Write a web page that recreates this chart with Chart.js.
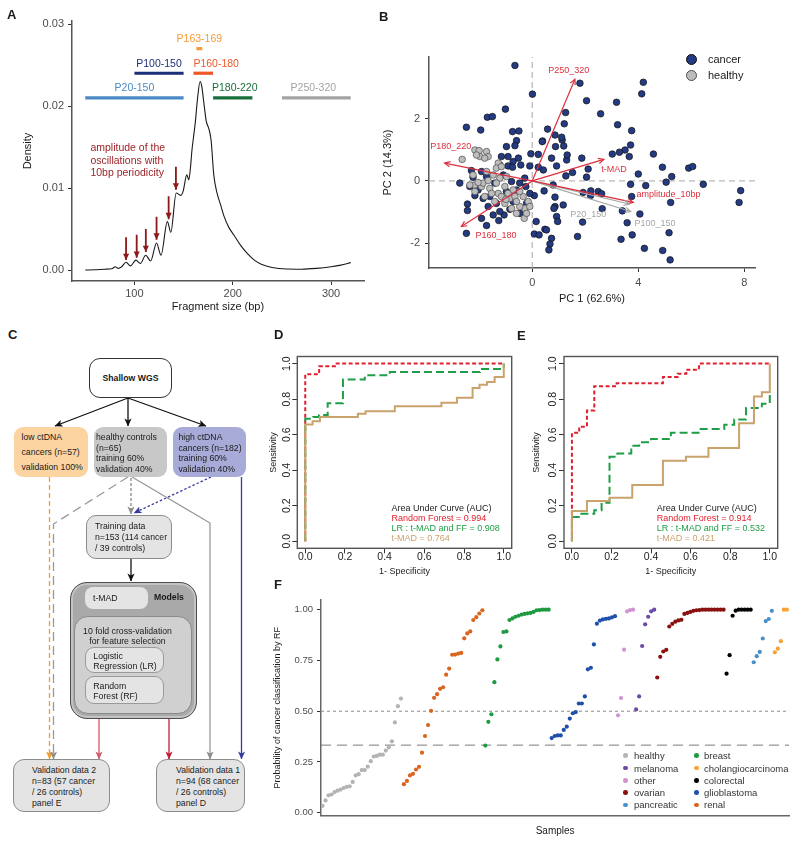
<!DOCTYPE html>
<html>
<head>
<meta charset="utf-8">
<title>cfDNA fragmentation figure</title>
<script src="https://cdn.jsdelivr.net/npm/chart.js@4.4.1/dist/chart.umd.min.js"></script>
<style>
  body { margin: 0; background: #fff; }
  #page { position: relative; width: 800px; height: 849px; overflow: hidden;
          font-family: 'Liberation Sans', Arial, sans-serif; color: #1a1a1a; }
  canvas { position: absolute; }
  .tag { position: absolute; font-size: 13px; font-weight: bold; line-height: 13px; }
  .box { position: absolute; box-sizing: border-box; font-size: 8.7px; white-space: nowrap; color: #1a1a1a; }
  .legtxt { position: absolute; white-space: nowrap; }
  .dot { position: absolute; box-sizing: border-box; border-radius: 50%; }
  #flow { position: absolute; left: 0; top: 0; }
</style>
</head>
<body>
<div id="page">
  <canvas id="chartA" width="370" height="320" style="left:0;top:0"></canvas>
  <canvas id="chartB" width="420" height="310" style="left:380px;top:0"></canvas>
  <canvas id="chartD" width="252" height="250" style="left:268px;top:340px"></canvas>
  <canvas id="chartE" width="260" height="250" style="left:530px;top:340px"></canvas>
  <canvas id="chartF" width="530" height="259" style="left:265px;top:590px"></canvas>

  <div class="tag" style="left:7px;top:8px">A</div>
  <div class="tag" style="left:379px;top:10px">B</div>
  <div class="tag" style="left:8px;top:328px">C</div>
  <div class="tag" style="left:274px;top:328px">D</div>
  <div class="tag" style="left:517px;top:329px">E</div>
  <div class="tag" style="left:274px;top:578px">F</div>

  <!-- B legend -->
  <div class="dot" style="left:686px;top:54px;width:11px;height:11px;background:#243b84;border:1px solid #111"></div>
  <div class="dot" style="left:686px;top:69.5px;width:11px;height:11px;background:#bdbdbd;border:1px solid #4d4d4d"></div>
  <div class="legtxt" style="left:708px;top:53px;font-size:11px;line-height:12px">cancer</div>
  <div class="legtxt" style="left:708px;top:69px;font-size:11px;line-height:12px">healthy</div>

  <!-- C: study design flowchart -->
  <svg id="flow" width="270" height="849">
    <defs>
      <marker id="hk" viewBox="0 0 10 10" refX="9.5" refY="5" markerWidth="8" markerHeight="8" markerUnits="userSpaceOnUse" orient="auto"><path d="M0,0.5 L10,5 L0,9.5 L2.5,5 z" fill="#111"/></marker>
      <marker id="ho" viewBox="0 0 10 10" refX="9.5" refY="5" markerWidth="8" markerHeight="8" markerUnits="userSpaceOnUse" orient="auto"><path d="M0,0.5 L10,5 L0,9.5 L2.5,5 z" fill="#f39c2b"/></marker>
      <marker id="hg" viewBox="0 0 10 10" refX="9.5" refY="5" markerWidth="8" markerHeight="8" markerUnits="userSpaceOnUse" orient="auto"><path d="M0,0.5 L10,5 L0,9.5 L2.5,5 z" fill="#8c8c8c"/></marker>
      <marker id="hn" viewBox="0 0 10 10" refX="9.5" refY="5" markerWidth="8" markerHeight="8" markerUnits="userSpaceOnUse" orient="auto"><path d="M0,0.5 L10,5 L0,9.5 L2.5,5 z" fill="#363b9e"/></marker>
      <marker id="hr" viewBox="0 0 10 10" refX="9.5" refY="5" markerWidth="8" markerHeight="8" markerUnits="userSpaceOnUse" orient="auto"><path d="M0,0.5 L10,5 L0,9.5 L2.5,5 z" fill="#c41e3a"/></marker>
      <marker id="hp" viewBox="0 0 10 10" refX="9.5" refY="5" markerWidth="8" markerHeight="8" markerUnits="userSpaceOnUse" orient="auto"><path d="M0,0.5 L10,5 L0,9.5 L2.5,5 z" fill="#d35a68"/></marker>
    </defs>
    <g fill="none" stroke-width="1.3">
      <line x1="128" y1="398" x2="55" y2="426" stroke="#111" marker-end="url(#hk)"/>
      <line x1="128" y1="398" x2="128" y2="426" stroke="#111" marker-end="url(#hk)"/>
      <line x1="128" y1="398" x2="206" y2="426" stroke="#111" marker-end="url(#hk)"/>
      <line x1="49.5" y1="477" x2="49.5" y2="759" stroke="#f39c2b" stroke-dasharray="5,3" marker-end="url(#ho)"/>
      <polyline points="128,477 53.5,524 53.5,759" stroke="#999" stroke-dasharray="9,5" marker-end="url(#hg)"/>
      <line x1="131" y1="478" x2="131" y2="514" stroke="#888" stroke-dasharray="3,2" marker-end="url(#hg)"/>
      <line x1="211" y1="477" x2="134" y2="513" stroke="#363b9e" stroke-dasharray="2.5,2" marker-end="url(#hn)"/>
      <polyline points="132,477 210,523 210,759" stroke="#999" marker-end="url(#hg)"/>
      <line x1="241.5" y1="477" x2="241.5" y2="759" stroke="#363b9e" marker-end="url(#hn)"/>
      <line x1="131" y1="559" x2="131" y2="581" stroke="#111" marker-end="url(#hk)"/>
      <line x1="99" y1="718" x2="99" y2="759" stroke="#d35a68" marker-end="url(#hp)"/>
      <line x1="169" y1="718" x2="169" y2="759" stroke="#c41e3a" marker-end="url(#hr)"/>
    </g>
  </svg>
  <div class="box" style="left:89px;top:358px;width:83px;height:40px;border:1px solid #333;border-radius:11px;background:#fff;font-weight:bold;text-align:center;line-height:38px">Shallow WGS</div>
  <div class="box" style="left:14px;top:427px;width:74px;height:50px;border-radius:9px;background:#fcd4a2;padding:3.3px 0 0 7.5px;line-height:14.7px">low ctDNA<br>cancers (n=57)<br>validation 100%</div>
  <div class="box" style="left:94px;top:427px;width:73px;height:50px;border-radius:9px;background:#c8c8c8;padding:5px 0 0 2px;line-height:10.5px">healthy controls<br>(n=65)<br>training 60%<br>validation 40%</div>
  <div class="box" style="left:173px;top:427px;width:73px;height:50px;border-radius:9px;background:#a8abd8;padding:5px 0 0 5.5px;line-height:10.5px">high ctDNA<br>cancers (n=182)<br>training 60%<br>validation 40%</div>
  <div class="box" style="left:86px;top:515px;width:86px;height:44px;border:1px solid #8c8c8c;border-radius:10px;background:#e4e4e4;padding:4.5px 0 0 8px;line-height:11.2px">Training data<br>n=153 (114 cancer<br>/ 39 controls)</div>
  <div class="box" style="left:70px;top:582px;width:127px;height:137px;border:1px solid #4d4d4d;border-radius:17px;background:#a9a9a9;box-shadow:inset 0 0 0 2px #c4c4c4"></div>
  <div class="box" style="left:85px;top:587px;width:63px;height:22px;border-radius:8px;background:#e4e4e4;padding-left:8px;line-height:22px">t-MAD</div>
  <div class="box" style="left:154px;top:592px;font-weight:bold;line-height:11px">Models</div>
  <div class="box" style="left:74px;top:616px;width:118px;height:98px;border:1px solid #8a8a8a;border-radius:14px;background:#d0d0d0;padding:9px 11px 0 0;line-height:10px;text-align:center">10 fold cross-validation<br>for feature selection</div>
  <div class="box" style="left:85px;top:647px;width:79px;height:26px;border:1px solid #9a9a9a;border-radius:9px;background:#e4e4e4;padding:2.5px 0 0 7.3px;line-height:10px">Logistic<br>Regression (LR)</div>
  <div class="box" style="left:85px;top:676px;width:79px;height:28px;border:1px solid #9a9a9a;border-radius:9px;background:#e4e4e4;padding:4px 0 0 7.3px;line-height:10px">Random<br>Forest (RF)</div>
  <div class="box" style="left:13px;top:759px;width:97px;height:53px;border:1px solid #8c8c8c;border-radius:11px;background:#e4e4e4;padding:5.3px 0 0 18px;line-height:10.8px">Validation data 2<br>n=83 (57 cancer<br>/ 26 controls)<br>panel E</div>
  <div class="box" style="left:156px;top:759px;width:89px;height:53px;border:1px solid #8c8c8c;border-radius:11px;background:#e4e4e4;padding:5.3px 0 0 19px;line-height:10.8px">Validation data 1<br>n=94 (68 cancer<br>/ 26 controls)<br>panel D</div>
</div>

<script>
// ---------- A: fragment size density ----------
const fragSize = [50, 60, 70, 77, 80.5, 83.5, 87, 91.5, 96, 101.5, 106, 111.5, 116.5, 122.5, 127, 133.5, 137,
  142.5, 147, 149.5, 153.3, 155.3, 157, 158.5, 160.2, 162, 164, 166.8, 168.5, 170.3, 173, 176, 178, 180.7,
  184, 187.5, 191, 196, 201, 208, 215, 222, 229, 240, 255, 270, 285, 300, 310, 320];
const fragDensity = [0, 0.00003, 0.0001, 0.00015, 0.0004, 0.0002, 0.0004, 0.00095, 0.0005, 0.0012, 0.0008,
  0.0018, 0.0011, 0.0033, 0.0018, 0.0059, 0.0046, 0.0094, 0.0091, 0.0096, 0.0116, 0.011, 0.0125, 0.0146,
  0.0163, 0.0181, 0.0207, 0.023, 0.0224, 0.0207, 0.0182, 0.0171, 0.0158, 0.0116, 0.0094, 0.008, 0.0066,
  0.0052, 0.0043, 0.003, 0.002, 0.0012, 0.0007, 0.0003, 0.00012, 0.0001, 0.0002, 0.0004, 0.0006, 0.0009];
const rangeNames = ['P20-150', 'P100-150', 'P160-180', 'P163-169', 'P180-220', 'P250-320'];
const rangeStart = [50, 100, 160, 163, 180, 250];
const rangeEnd = [150, 150, 180, 169, 220, 320];
const rangeLevel = [0.021, 0.024, 0.024, 0.027, 0.021, 0.021];
const peakSize = [91.5, 102.3, 111.6, 122.5, 134.8, 142.2];
const densityTicks = [0, 0.01, 0.02, 0.03];
const sizeTicks = [100, 200, 300];

// ---------- B: PCA ----------
const cancerPC1 = [-0.65, 0.01, 1.80, 2.05, 1.26, 1.21, 0.58, 0.86, 1.13, 1.19, 0.39, -1.01, -1.69, -1.50, -2.48,
  -1.94, -0.74, -0.50, -0.59, -0.97, -0.65, -0.52, -0.72, -0.91, -0.43, -0.09, -0.05, 0.23, 0.42, 0.23, 0.73,
  0.92, 1.30, 1.52, 1.27, 1.87, 2.11, 2.05, 1.92, 0.79, 0.45, 0.08, 0.86, 1.17, 0.92, 0.96, 0.86, 0.48, 0.15,
  0.08, 0.26, 0.73, 0.67, 0.63, 1.90, 1.71, -2.73, -2.44, -2.44, -2.48, -1.72, -1.91, -1.26, -1.06, -0.84, -0.47,
  -2.29, -2.23, -2.35, -2.04, -2.16, -1.85, -1.60, -1.35, -1.16, -1.22, -0.91, -0.74, -1.09, -0.78, -0.47, -0.28,
  -0.24, -1.41, -1.72, -1.91, -0.97, -0.59, -1.22, -1.47, -1.66, -0.21, -0.09, -0.72,
  1.11, 0.88, 0.38, 1.32, 0.82, 0.54, 2.20, 2.21,
  4.19, 4.13, 3.18, 2.58, 3.22, 3.75, 3.71, 3.50, 3.29, 3.02, 3.66, 4.57, 4.91, 5.90, 6.05, 4.00, 5.26, 5.05,
  3.71, 4.28, 6.45, 7.86, 7.80, 5.22, 3.75, 2.49, 2.62, 2.64, 3.40, 4.06, 3.58, 3.77, 3.35, 5.16, 4.23, 4.92, 5.20];
const cancerPC2 = [3.70, 2.78, 3.13, 2.57, 2.19, 1.83, 1.66, 1.47, 1.31, 1.12, 1.28, 2.30, 2.04, 2.06, 1.72,
  1.63, 1.58, 1.60, 1.29, 1.10, 1.13, 0.73, 0.62, 0.48, 0.51, 0.48, 0.87, 0.85, 0.35, 0.44, 0.73,
  0.48, 0.67, 0.27, 0.16, 0.73, 0.38, 0.12, -0.37, -0.13, -0.32, -0.47, -0.52, -0.77, -1.14, -1.30, -0.82, -1.55, -1.30,
  -1.70, -1.73, -1.84, -2.02, -2.21, -1.32, -1.78, -0.07, -0.74, -0.95, -1.68, -1.43, -1.20, -1.27, -1.09, -0.91, -1.04,
  0.33, 0.12, -0.18, -0.29, -0.47, -0.56, -0.50, -0.72, 0.78, 0.51, 0.78, 0.44, 0.19, -0.02, -0.07, 0.09,
  -0.18, -0.07, 0.14, 0.30, -0.34, -0.29, -0.98, -1.09, -0.82, -0.72, -0.40, -0.66,
  1.40, 1.10, 1.26, 0.83, -0.88, -1.57, -0.47, -0.32,
  3.16, 2.79, 2.52, 2.15, 1.80, 1.61, 1.15, 0.99, 0.92, 0.86, 0.78, 0.86, 0.44, 0.41, 0.46, 0.22, 0.14, -0.04,
  -0.11, -0.15, -0.11, -0.31, -0.69, -0.69, -0.50, -0.34, -0.41, -0.89, -0.96, -1.06, -1.34, -1.73, -1.87, -1.66, -2.16, -2.23, -2.53];
const healthyPC1 = [-2.64, -2.16, -2.00, -1.72, -1.66, -1.97, -1.79, -2.10, -1.28, -1.35, -1.72, -2.23, -2.16,
  -1.91, -1.60, -1.28, -1.22, -0.97, -1.16, -0.84, -0.65, -0.34, -0.15, -0.28, -0.47, -0.30, -0.59, -0.78, -1.03,
  -1.41, -1.53, -1.85, -2.35, -2.04, -1.66, -1.03, -0.72, -0.91, -0.47, -0.09, -1.16, -1.47, -1.79, -2.16, -0.59,
  -0.21, -1.35, -0.99];
const healthyPC2 = [0.69, 0.99, 0.97, 0.94, 0.78, 0.78, 0.73, 0.83, 0.57, 0.41, 0.30, 0.19, -0.13,
  -0.18, -0.24, -0.40, 0.09, 0.14, -0.50, -0.56, -0.50, -0.50, -0.66, -0.88, -0.82, -1.20, -1.04, -0.88, -0.72,
  -0.66, -0.40, -0.07, -0.13, -0.05, 0.01, -0.18, -0.29, -0.40, -0.34, -0.82, 0.46, 0.19, -0.50, -0.34, -0.66,
  -1.04, -0.07, -0.59];
const loadNames = ['P250_320', 'P180_220', 'P160_180', 't-MAD', 'amplitude_10bp', 'P20_150', 'P100_150'];
const loadPC1 = [1.61, -3.30, -2.67, 2.70, 3.81, 3.66, 3.71];
const loadPC2 = [3.26, 0.57, -1.46, 0.69, -0.69, -0.74, -0.98];
const pcTicksX = [0, 4, 8];
const pcTicksY = [-2, 0, 2];

// ---------- D / E: ROC curves ----------
const dRfX = [0, 0, 0.07, 0.07, 0.15, 0.15, 1];
const dRfY = [0, 0.94, 0.94, 0.985, 0.985, 1, 1];
const dLrX = [0, 0, 0.04, 0.04, 0.07, 0.07, 0.113, 0.113, 0.19, 0.19, 0.30, 0.30, 0.426, 0.426, 0.88, 0.88, 1, 1];
const dLrY = [0, 0.69, 0.69, 0.70, 0.70, 0.71, 0.71, 0.777, 0.777, 0.91, 0.91, 0.934, 0.934, 0.953, 0.953, 0.97, 0.97, 1];
const dMadX = [0, 0, 0.037, 0.037, 0.074, 0.074, 0.265, 0.265, 0.304, 0.304, 0.451, 0.451, 0.686, 0.686, 0.764,
  0.764, 0.843, 0.843, 0.878, 0.878, 0.916, 0.916, 0.954, 0.954, 1, 1];
const dMadY = [0, 0.657, 0.657, 0.675, 0.675, 0.70, 0.70, 0.717, 0.717, 0.732, 0.732, 0.76, 0.76, 0.779, 0.779,
  0.808, 0.808, 0.862, 0.862, 0.881, 0.881, 0.896, 0.896, 0.925, 0.925, 1];
const eRfX = [0, 0, 0.037, 0.037, 0.076, 0.076, 0.113, 0.113, 0.226, 0.226, 0.46, 0.46, 0.535, 0.535, 0.578, 0.578, 0.642, 0.642, 1];
const eRfY = [0, 0.61, 0.61, 0.645, 0.645, 0.736, 0.736, 0.872, 0.872, 0.89, 0.89, 0.925, 0.925, 0.943, 0.943, 0.966, 0.966, 1, 1];
const eLrX = [0, 0, 0.04, 0.04, 0.113, 0.113, 0.15, 0.15, 0.19, 0.19, 0.23, 0.23, 0.30, 0.30, 0.34, 0.34, 0.40,
  0.40, 0.50, 0.50, 0.64, 0.64, 0.77, 0.77, 0.82, 0.82, 0.88, 0.88, 0.96, 0.96, 1, 1];
const eLrY = [0, 0.136, 0.136, 0.155, 0.155, 0.174, 0.174, 0.217, 0.217, 0.475, 0.475, 0.494, 0.494, 0.538, 0.538,
  0.557, 0.557, 0.575, 0.575, 0.61, 0.61, 0.632, 0.632, 0.655, 0.655, 0.685, 0.685, 0.75, 0.75, 0.774, 0.774, 0.834];
const eMadX = [0, 0, 0.076, 0.076, 0.19, 0.19, 0.305, 0.305, 0.46, 0.46, 0.576, 0.576, 0.69, 0.69, 0.845, 0.845, 0.92, 0.92, 0.96, 0.96, 1, 1];
const eMadY = [0, 0.17, 0.17, 0.226, 0.226, 0.245, 0.245, 0.317, 0.317, 0.453, 0.453, 0.475, 0.475, 0.525, 0.525,
  0.664, 0.664, 0.815, 0.815, 0.838, 0.838, 1];
const aucD = [0.994, 0.908, 0.764];
const aucE = [0.914, 0.532, 0.421];
const rocTicks = [0, 0.2, 0.4, 0.6, 0.8, 1];

// ---------- F: RF probability per sample ----------
const groupNames = ['healthy', 'renal', 'breast', 'glioblastoma', 'other', 'melanoma', 'ovarian', 'colorectal', 'pancreatic', 'cholangiocarcinoma'];
const healthyProb = [0.034, 0.061, 0.086, 0.090, 0.102, 0.109, 0.114, 0.122, 0.128, 0.130, 0.152, 0.184, 0.190, 0.210,
  0.210, 0.227, 0.254, 0.277, 0.280, 0.286, 0.286, 0.306, 0.322, 0.352, 0.445, 0.525, 0.562];
const renalProb = [0.141, 0.157, 0.184, 0.192, 0.213, 0.226, 0.296, 0.378, 0.432, 0.502, 0.566, 0.584, 0.610, 0.618,
  0.680, 0.710, 0.778, 0.779, 0.784, 0.787, 0.859, 0.883, 0.893, 0.949, 0.963, 0.981, 0.997];
const breastProb = [0.331, 0.448, 0.485, 0.643, 0.755, 0.819, 0.890, 0.893, 0.949, 0.957, 0.965, 0.970, 0.976, 0.979,
  0.982, 0.984, 0.989, 0.997, 0.998, 1, 1, 1];
const glioProb = [0.368, 0.378, 0.381, 0.381, 0.408, 0.424, 0.464, 0.490, 0.496, 0.538, 0.538, 0.573, 0.706, 0.714,
  0.829, 0.931, 0.946, 0.952, 0.955, 0.957, 0.962, 0.968];
const otherProb = [0.480, 0.565, 0.803, 0.992, 0.998, 1];
const melanomaProb = [0.509, 0.573, 0.821, 0.928, 0.965, 0.992, 1];
const ovarianProb = [0.666, 0.768, 0.794, 0.802, 0.917, 0.930, 0.941, 0.947, 0.950, 0.979, 0.984, 0.989, 0.994,
  0.997, 0.998, 1, 1, 1, 1, 1, 1, 1, 1];
const colorectalProb = [0.685, 0.776, 0.970, 0.995, 1, 1, 1, 1, 1];
const pancreaticProb = [0.741, 0.771, 0.792, 0.858, 0.944, 0.954, 0.994];
const cholangioProb = [0.790, 0.808, 0.845, 1, 1];
const cutoffs = [0.5, 0.333];
const probTicks = [0, 0.25, 0.5, 0.75, 1];

// ---------- shared setup ----------
const FONT = "'Liberation Sans', Arial, sans-serif";
Chart.defaults.font.family = FONT;
Chart.defaults.animation = false;
Chart.defaults.responsive = false;
Chart.defaults.plugins.legend.display = false;
Chart.defaults.plugins.tooltip.enabled = false;

const fixWidth = w => s => { s.width = w; };
const fixHeight = h => s => { s.height = h; };
const useTicks = vals => s => { s.ticks = vals.map(v => ({ value: v })); };
const pairs = (xs, ys) => xs.map((x, i) => ({ x, y: ys[i] }));

// arrow heads at the last point of datasets that ask for one
const arrowHeads = {
  id: 'arrowHeads',
  afterDatasetsDraw(chart) {
    const ctx = chart.ctx;
    chart.data.datasets.forEach((ds, i) => {
      if (!ds.headSize) return;
      const pts = chart.getDatasetMeta(i).data;
      const a = pts[pts.length - 2], b = pts[pts.length - 1];
      const ang = Math.atan2(b.y - a.y, b.x - a.x);
      const s = ds.headSize, w = 0.45;
      ctx.save();
      ctx.strokeStyle = ctx.fillStyle = ds.borderColor;
      ctx.lineWidth = ds.borderWidth;
      ctx.beginPath();
      ctx.moveTo(b.x - s * Math.cos(ang - w), b.y - s * Math.sin(ang - w));
      ctx.lineTo(b.x, b.y);
      ctx.lineTo(b.x - s * Math.cos(ang + w), b.y - s * Math.sin(ang + w));
      if (ds.headFilled) { ctx.closePath(); ctx.fill(); } else { ctx.stroke(); }
      ctx.restore();
    });
  }
};

// text annotations placed in data units (chart.data.notes)
const notes = {
  id: 'notes',
  afterDatasetsDraw(chart) {
    const { ctx, scales } = chart;
    (chart.data.notes || []).forEach(n => {
      const lines = [].concat(n.text), colors = [].concat(n.color);
      const x0 = scales.x.getPixelForValue(n.x) + (n.dx || 0);
      const y0 = scales.y.getPixelForValue(n.y) + (n.dy || 0);
      ctx.save();
      ctx.font = n.size + 'px ' + FONT;
      ctx.textAlign = n.align || 'center';
      ctx.textBaseline = 'middle';
      lines.forEach((t, k) => {
        ctx.fillStyle = colors[k] || colors[0];
        ctx.fillText(t, x0, y0 + k * (n.lh || 0));
      });
      ctx.restore();
    });
  }
};

// R style box and vertical tick labels for the ROC panels
const rocFrame = {
  id: 'rocFrame',
  afterDraw(chart) {
    const { ctx, chartArea: a, scales: { y } } = chart;
    ctx.save();
    ctx.strokeStyle = '#555';
    ctx.lineWidth = 1.4;
    ctx.strokeRect(a.left, a.top, a.right - a.left, a.bottom - a.top);
    ctx.fillStyle = '#222';
    ctx.font = '10.5px ' + FONT;
    ctx.textAlign = 'center';
    ctx.textBaseline = 'middle';
    y.ticks.forEach(t => {
      ctx.save();
      ctx.translate(a.left - 10.5, y.getPixelForValue(t.value));
      ctx.rotate(-Math.PI / 2);
      ctx.fillText(t.value.toFixed(1), 0, 0);
      ctx.restore();
    });
    ctx.restore();
  }
};

const ggAxis = { color: '#555', width: 1.5 };
const ggGrid = { drawOnChartArea: false, tickLength: 4, tickColor: '#333' };

// ---------- chart A ----------
const rangeColors = ['#4a89c4', '#1c2e78', '#f0582a', '#f79a36', '#17703a', '#a3a3a3'];
const rangeLabelX = [100, 125, 160, 166, 202, 282];
const rangeLabelAlign = ['center', 'center', 'left', 'center', 'center', 'center'];
const arrowFrom = [0.0040, 0.0043, 0.0050, 0.0065, 0.0090, 0.0126];
const arrowTo = [0.00122, 0.0015, 0.0022, 0.0037, 0.0062, 0.0098];

new Chart(document.getElementById('chartA'), {
  type: 'line',
  data: {
    datasets: [
      { data: pairs(fragSize, fragDensity), borderColor: '#1a1a1a', borderWidth: 1.1, pointRadius: 0,
        cubicInterpolationMode: 'monotone' },
      ...rangeNames.map((n, i) => ({
        data: [{ x: rangeStart[i], y: rangeLevel[i] }, { x: rangeEnd[i], y: rangeLevel[i] }],
        borderColor: rangeColors[i], borderWidth: 3.2, pointRadius: 0
      })),
      ...peakSize.map((p, i) => ({
        data: [{ x: p, y: arrowFrom[i] }, { x: p, y: arrowTo[i] }],
        borderColor: '#8b1a1a', borderWidth: 1.8, pointRadius: 0, headSize: 7, headFilled: true
      }))
    ],
    notes: [
      ...rangeNames.map((n, i) => ({ text: n, x: rangeLabelX[i], y: rangeLevel[i], dy: -9.5, size: 10.5,
        color: rangeColors[i], align: rangeLabelAlign[i] })),
      { text: ['amplitude of the', 'oscillations with', '10bp periodicity'], x: 55.2, y: 0.01484, lh: 12.5,
        size: 10.5, color: '#9b2226', align: 'left' }
    ]
  },
  options: {
    layout: { padding: { left: 0, top: 21, right: 6, bottom: 0 } },
    scales: {
      x: { type: 'linear', min: 36.5, max: 333.5, afterFit: fixHeight(39), afterBuildTicks: useTicks(sizeTicks),
        grid: ggGrid, border: ggAxis,
        ticks: { color: '#4d4d4d', padding: 2.5, font: { size: 11 } },
        title: { display: true, text: 'Fragment size (bp)', color: '#1a1a1a', font: { size: 11 }, padding: { top: 0, bottom: 6 } } },
      y: { min: -0.00134, max: 0.03037, afterFit: fixWidth(72), afterBuildTicks: useTicks(densityTicks),
        grid: ggGrid, border: ggAxis,
        ticks: { color: '#4d4d4d', padding: 4, font: { size: 11 }, callback: v => v.toFixed(2) },
        title: { display: true, text: 'Density', color: '#1a1a1a', font: { size: 11 }, padding: { top: 21, bottom: 0 } } }
    }
  },
  plugins: [arrowHeads, notes]
});

// ---------- chart B ----------
const loadColors = ['#dc2f3c', '#dc2f3c', '#dc2f3c', '#dc2f3c', '#dc2f3c', '#a6a6a6', '#a6a6a6'];
const loadLabelPC1 = [1.38, -3.07, -1.36, 3.08, 5.14, 2.11, 4.63];
const loadLabelPC2 = [3.53, 1.10, -1.75, 0.37, -0.43, -1.09, -1.38];
const pcX = [-3.89, 8.40], pcY = [-2.79, 3.97];

new Chart(document.getElementById('chartB'), {
  type: 'scatter',
  data: {
    datasets: [
      ...loadNames.map((n, i) => ({
        data: [{ x: 0, y: 0 }, { x: loadPC1[i], y: loadPC2[i] }],
        showLine: true, pointRadius: 0, borderColor: loadColors[i], borderWidth: 1.2, headSize: 6
      })),
      { data: pairs(healthyPC1, healthyPC2), backgroundColor: '#bdbdbd', borderColor: '#4d4d4d', borderWidth: 0.7, pointRadius: 3.3 },
      { data: pairs(cancerPC1, cancerPC2), backgroundColor: '#243b84', borderColor: '#111', borderWidth: 0.7, pointRadius: 3.3 },
      { data: [{ x: pcX[0], y: 0 }, { x: pcX[1], y: 0 }], showLine: true, pointRadius: 0, borderColor: '#a6a6a6', borderWidth: 1, borderDash: [6, 4] },
      { data: [{ x: 0, y: pcY[0] }, { x: 0, y: pcY[1] }], showLine: true, pointRadius: 0, borderColor: '#a6a6a6', borderWidth: 1, borderDash: [6, 4] }
    ],
    notes: loadNames.map((n, i) => ({ text: n, x: loadLabelPC1[i], y: loadLabelPC2[i], size: 9, color: loadColors[i] }))
  },
  options: {
    layout: { padding: { left: 0, top: 57, right: 45, bottom: 0 } },
    scales: {
      x: { min: pcX[0], max: pcX[1], afterFit: fixHeight(42), afterBuildTicks: useTicks(pcTicksX),
        grid: ggGrid, border: ggAxis,
        ticks: { color: '#4d4d4d', padding: 4, font: { size: 11 } },
        title: { display: true, text: 'PC 1 (62.6%)', color: '#1a1a1a', font: { size: 11 }, padding: { top: 0, bottom: 4.4 } } },
      y: { min: pcY[0], max: pcY[1], afterFit: fixWidth(49), afterBuildTicks: useTicks(pcTicksY),
        grid: ggGrid, border: ggAxis,
        ticks: { color: '#4d4d4d', padding: 5, font: { size: 11 } },
        title: { display: true, text: 'PC 2 (14.3%)', color: '#1a1a1a', font: { size: 11 }, padding: { top: 1.4, bottom: 0 } } }
    }
  },
  plugins: [arrowHeads, notes]
});

// ---------- charts D and E ----------
const rocColors = ['#e0202e', '#1f9e45', '#c9a26c'];
function rocChart(id, rf, lr, mad, auc, legendX, yWidth, rightPad, titlePad) {
  return new Chart(document.getElementById(id), {
    type: 'scatter',
    data: {
      datasets: [
        { data: mad, borderColor: rocColors[2], borderWidth: 2 },
        { data: lr, borderColor: rocColors[1], borderWidth: 2, borderDash: [8, 4] },
        { data: rf, borderColor: rocColors[0], borderWidth: 2, borderDash: [4, 2.5] }
      ].map(d => Object.assign(d, { showLine: true, pointRadius: 0 })),
      notes: [{
        x: legendX, y: 0.183, align: 'left', size: 9, lh: 10,
        text: ['Area Under Curve (AUC)', 'Random Forest = ' + auc[0], 'LR : t-MAD and FF = ' + auc[1], 't-MAD = ' + auc[2]],
        color: ['#1a1a1a'].concat(rocColors)
      }]
    },
    options: {
      layout: { padding: { left: 0, top: 16.5, right: rightPad, bottom: 0 } },
      scales: {
        x: { min: -0.04, max: 1.04, afterFit: fixHeight(41.7), afterBuildTicks: useTicks(rocTicks),
          grid: { drawOnChartArea: false, tickLength: 5, tickColor: '#333' }, border: { display: false },
          ticks: { color: '#222', padding: -2, font: { size: 10.5 }, callback: v => v.toFixed(1) },
          title: { display: true, text: '1- Specificity', color: '#222', font: { size: 9 }, padding: { top: 0, bottom: 12.6 } } },
        y: { min: -0.04, max: 1.04, afterFit: fixWidth(yWidth), afterBuildTicks: useTicks(rocTicks),
          grid: { drawOnChartArea: false, tickLength: 5, tickColor: '#333' }, border: { display: false },
          ticks: { display: false },
          title: { display: true, text: 'Sensitivity', color: '#222', font: { size: 9 }, padding: { top: titlePad, bottom: 0 } } }
      }
    },
    plugins: [rocFrame, notes]
  });
}
rocChart('chartD', pairs(dRfX, dRfY), pairs(dLrX, dLrY), pairs(dMadX, dMadY), aucD, 0.434, 29.3, 8.3, 0);
rocChart('chartE', pairs(eRfX, eRfY), pairs(eLrX, eLrY), pairs(eMadX, eMadY), aucE, 0.429, 34, 12.3, 1.3);

// ---------- chart F ----------
const groupProbs = [healthyProb, renalProb, breastProb, glioProb, otherProb, melanomaProb, ovarianProb,
  colorectalProb, pancreaticProb, cholangioProb];
const groupColors = {
  healthy: '#b3b3b3', renal: '#d9651e', breast: '#1e9a40', glioblastoma: '#1f50aa', other: '#d194d1',
  melanoma: '#6a4aa5', ovarian: '#8b1010', colorectal: '#000000', pancreatic: '#4a90c8', cholangiocarcinoma: '#f7a333'
};
let sample = 0;
const groupSets = groupProbs.map((vals, g) => ({
  data: vals.map(v => ({ x: ++sample, y: v })),
  backgroundColor: groupColors[groupNames[g]], borderWidth: 0, pointRadius: 2.1
}));
const sampleRange = [0.5, 155.8];

new Chart(document.getElementById('chartF'), {
  type: 'scatter',
  data: {
    datasets: [
      ...groupSets,
      { data: [{ x: sampleRange[0], y: cutoffs[0] }, { x: sampleRange[1], y: cutoffs[0] }], showLine: true,
        pointRadius: 0, borderColor: '#8a8a8a', borderWidth: 1, borderDash: [3, 3] },
      { data: [{ x: sampleRange[0], y: cutoffs[1] }, { x: sampleRange[1], y: cutoffs[1] }], showLine: true,
        pointRadius: 0, borderColor: '#7a7a7a', borderWidth: 1, borderDash: [10, 6] }
    ]
  },
  options: {
    layout: { padding: { left: 0, top: 4, right: 5.7, bottom: 0 } },
    scales: {
      x: { min: sampleRange[0], max: sampleRange[1], afterFit: fixHeight(33.3),
        grid: { display: false }, ticks: { display: false }, border: { color: '#666', width: 1.5 },
        title: { display: true, text: 'Samples', color: '#1a1a1a', font: { size: 10 }, padding: { top: 0, bottom: 11.5 } } },
      y: { min: -0.0144, max: 1.049, afterFit: fixWidth(56), afterBuildTicks: useTicks(probTicks),
        grid: ggGrid, border: { color: '#666', width: 1.5 },
        ticks: { color: '#4d4d4d', padding: 4, font: { size: 9.5 }, callback: v => v.toFixed(2) },
        title: { display: true, text: 'Probability of cancer classification by RF', color: '#1a1a1a', font: { size: 9 },
          padding: { top: 7.6, bottom: 0 } } }
    }
  }
});

// F legend, two columns as in the original
const legendCols = [['healthy', 'melanoma', 'other', 'ovarian', 'pancreatic'],
  ['breast', 'cholangiocarcinoma', 'colorectal', 'glioblastoma', 'renal']];
const page = document.getElementById('page');
legendCols.forEach((col, c) => col.forEach((name, r) => {
  const cy = 755.7 + r * 12.3;
  const dot = document.createElement('div');
  dot.className = 'dot';
  dot.style.cssText = `left:${(c ? 696.7 : 625.7) - 2.3}px;top:${cy - 2.3}px;width:4.6px;height:4.6px;background:${groupColors[name]}`;
  const txt = document.createElement('div');
  txt.className = 'legtxt';
  txt.textContent = name;
  txt.style.cssText = `left:${c ? 704 : 634}px;top:${cy - 5.5}px;font-size:9.5px;line-height:11px;color:#333`;
  page.appendChild(dot);
  page.appendChild(txt);
}));
</script>
</body>
</html>
